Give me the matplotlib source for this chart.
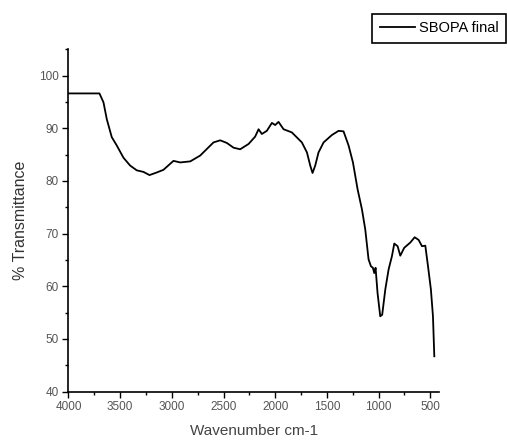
import numpy as np
import matplotlib
matplotlib.use('Agg')
import matplotlib.pyplot as plt
from matplotlib.ticker import MultipleLocator

plt.rcParams['font.family'] = ['Liberation Sans', 'DejaVu Sans']

# wavenumber (cm-1) and % transmittance
wavenumber = [4000, 3700, 3661, 3629, 3581, 3532, 3468, 3403, 3339, 3274, 3216,
              3145, 3081, 2984, 2919, 2822, 2726, 2597, 2532, 2468, 2403, 2339,
              2258, 2194, 2161, 2129, 2081, 2032, 2000, 1968, 1919, 1839, 1742,
              1693, 1661, 1639, 1613, 1581, 1532, 1452, 1387, 1339, 1290, 1248,
              1203, 1161, 1129, 1097, 1074, 1055, 1042, 1029, 1010, 984, 965,
              935, 903, 871, 848, 816, 790, 752, 693, 651, 613, 580, 548, 522,
              494, 474, 461]
transmittance = [96.6, 96.6, 94.9, 91.7, 88.3, 86.7, 84.4, 82.9, 82.0, 81.7, 81.1,
                 81.6, 82.1, 83.8, 83.5, 83.7, 84.8, 87.3, 87.7, 87.2, 86.3, 86.0,
                 87.0, 88.4, 89.8, 88.9, 89.5, 91.0, 90.6, 91.2, 89.8, 89.2, 87.3,
                 85.4, 82.9, 81.5, 82.9, 85.4, 87.3, 88.7, 89.5, 89.4, 86.7, 83.5,
                 78.4, 74.6, 70.8, 65.1, 63.8, 63.5, 62.5, 63.5, 58.7, 54.3, 54.6,
                 59.4, 63.2, 65.7, 68.1, 67.6, 65.8, 67.3, 68.3, 69.3, 68.8, 67.6,
                 67.7, 63.8, 59.4, 54.3, 46.7]

fig = plt.figure(figsize=(5.07, 4.43), dpi=100)
ax = fig.add_axes([0.135, 0.116, 0.731, 0.773])

line, = ax.plot(wavenumber, transmittance, color='black', lw=1.3, label='SBOPA final')

ax.set_xlim(4000, 415)
ax.set_ylim(40, 105)
ax.set_xticks([4000, 3500, 3000, 2500, 2000, 1500, 1000, 500])
ax.set_yticks([40, 50, 60, 70, 80, 90, 100])
ax.xaxis.set_minor_locator(MultipleLocator(250))
ax.yaxis.set_minor_locator(MultipleLocator(5))
ax.tick_params(which='major', direction='out', length=4, width=1, labelsize=8.5,
               labelcolor='#555555', pad=3)
ax.tick_params(which='minor', direction='out', length=2, width=1)

ax.spines['top'].set_visible(False)
ax.spines['right'].set_visible(False)
ax.spines['left'].set_linewidth(1.2)
ax.spines['bottom'].set_linewidth(1.2)

ax.set_xlabel('Wavenumber cm-1', fontsize=11, color='#444444', labelpad=8)
ax.set_ylabel('% Transmittance', fontsize=11.5, color='#333333', labelpad=8)

leg = fig.legend(handles=[line], loc='upper right',
                 bbox_to_anchor=(506 / 507, 1 - 14 / 443), fontsize=10.5,
                 fancybox=False, edgecolor='black', framealpha=1,
                 handlelength=2.4, handletextpad=0.3, borderpad=0.5,
                 borderaxespad=0)
leg.get_frame().set_linewidth(1.2)

fig.savefig('out.png', dpi=100)
